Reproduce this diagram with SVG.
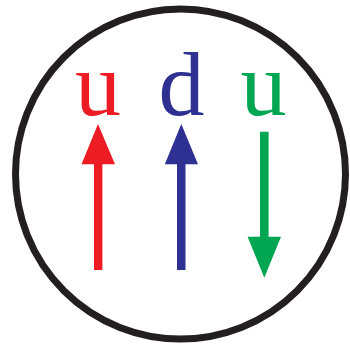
<svg xmlns="http://www.w3.org/2000/svg" width="350" height="345" viewBox="0 0 350 345">
<style>
.lbl{font-family:"Liberation Serif","DejaVu Serif",serif;font-size:92px;text-anchor:middle}
.red{fill:#ED1C24}.blue{fill:#2E3192}.green{fill:#00A651}
</style>
<rect width="350" height="345" fill="#fff"/>
<circle id="proton" cx="180.5" cy="174" r="165" fill="none" stroke="#231F20" stroke-width="7"/>
<g id="quark-u1">
<text class="lbl red" x="98" y="115">u</text>
<polygon class="red" points="98,124 115,164.3 102.4,164.3 102.4,270 94,270 94,164.3 81.5,164.3"/>
</g>
<g id="quark-d">
<text class="lbl blue" x="181.5" y="115">d</text>
<polygon class="blue" points="181.3,124 198,164.3 185.5,164.3 185.5,270 177,270 177,164.3 164.8,164.3"/>
</g>
<g id="quark-u2">
<text class="lbl green" x="263.5" y="115">u</text>
<polygon class="green" points="260,131.7 268.6,131.7 268.6,236.7 281,236.7 264.3,277.7 247.6,236.7 260,236.7"/>
</g>
</svg>
